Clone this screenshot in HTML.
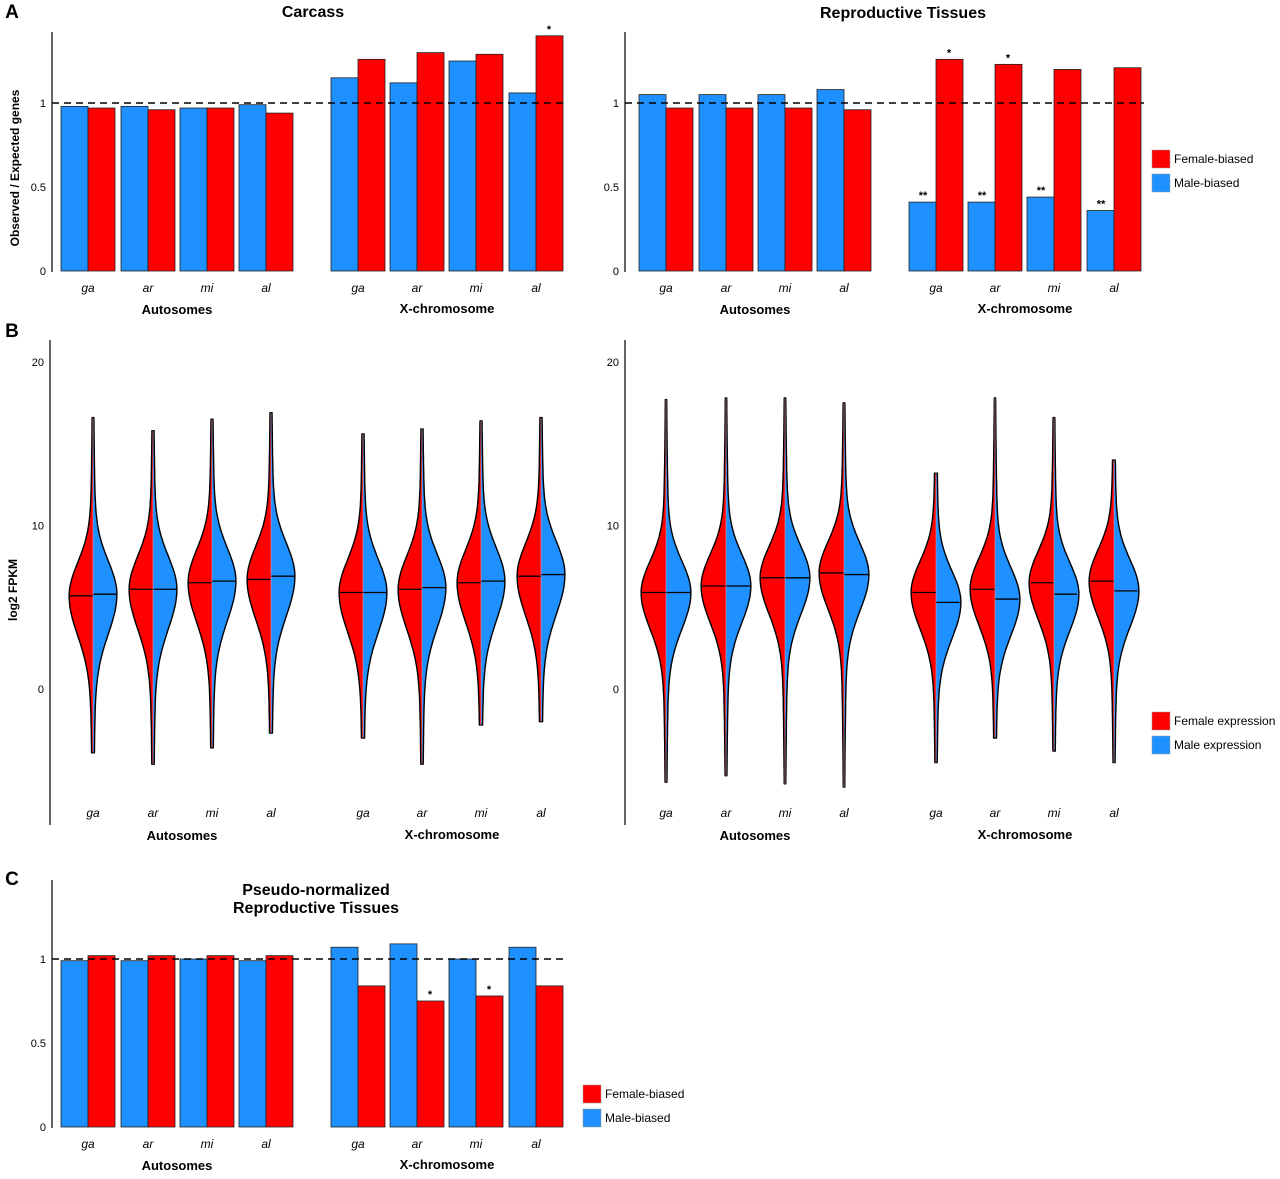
<!DOCTYPE html>
<html><head><meta charset="utf-8"><style>
body{margin:0;background:#fff}
svg text{font-family:"Liberation Sans",Arial,sans-serif}
</style></head><body>
<svg id="fig" width="1280" height="1174" viewBox="0 0 1280 1174" xmlns="http://www.w3.org/2000/svg"></svg>
<script>
// ---- data ----
const cats = ["ga","ar","mi","al"];
const carcassAutoMale = [0.98,0.98,0.97,0.99];
const carcassAutoFemale = [0.97,0.96,0.97,0.94];
const carcassXMale = [1.15,1.12,1.25,1.06];
const carcassXFemale = [1.26,1.30,1.29,1.40];
const reproAutoMale = [1.05,1.05,1.05,1.08];
const reproAutoFemale = [0.97,0.97,0.97,0.96];
const reproXMale = [0.41,0.41,0.44,0.36];
const reproXFemale = [1.26,1.23,1.20,1.21];
const pseudoAutoMale = [0.99,0.99,1.00,0.99];
const pseudoAutoFemale = [1.02,1.02,1.02,1.02];
const pseudoXMale = [1.07,1.09,1.00,1.07];
const pseudoXFemale = [0.84,0.75,0.78,0.84];
const barTicks = [0,0.5,1];
const barTickLabels = ["0","0.5","1"];
const violinTicks = [0,10,20];
// violins: female median, male median, min, max
const carcFemMed = [5.7,6.1,6.5,6.7,5.9,6.1,6.5,6.9];
const carcMaleMed = [5.8,6.1,6.6,6.9,5.9,6.2,6.6,7.0];
const carcMin = [-3.9,-4.6,-3.6,-2.7,-3.0,-4.6,-2.2,-2.0];
const carcMax = [16.6,15.8,16.5,16.9,15.6,15.9,16.4,16.6];
const repFemMed = [5.9,6.3,6.8,7.1,5.9,6.1,6.5,6.6];
const repMaleMed = [5.9,6.3,6.8,7.0,5.3,5.5,5.8,6.0];
const repMin = [-5.7,-5.3,-5.8,-6.0,-4.5,-3.0,-3.8,-4.5];
const repMax = [17.7,17.8,17.8,17.5,13.2,17.8,16.6,14.0];

const RED="#ff0000", BLUE="#1e90ff";
const svg=document.getElementById('fig');
const NS="http://www.w3.org/2000/svg";
function el(tag,attrs,parent){const e=document.createElementNS(NS,tag);for(const k in attrs)e.setAttribute(k,attrs[k]);(parent||svg).appendChild(e);return e;}
function txt(x,y,s,size,opts,parent){const t=el('text',Object.assign({x:x,y:y,'font-size':size,'text-anchor':'middle'},opts||{}),parent);t.textContent=s;return t;}

function groupCenters(x0){return [x0+26,x0+86,x0+145,x0+204, x0+296,x0+355,x0+414,x0+474];}

function barPanel(name,axisX,zeroY,topY,centers,am,af,xm,xf,stars){
  const g=el('g',{});
  
  
  const yS=v=>zeroY-v*168;
  const male=am.concat(xm), fem=af.concat(xf);
  for(let i=0;i<8;i++){
    const c=centers[i];
    const b=el('rect',{x:c-27,y:yS(male[i]),width:27,height:zeroY-yS(male[i]),fill:BLUE,stroke:'#222','stroke-width':0.8},g);
    
    
    const r=el('rect',{x:c,y:yS(fem[i]),width:27,height:zeroY-yS(fem[i]),fill:RED,stroke:'#222','stroke-width':0.8},g);
    
    
    txt(c,zeroY+21,cats[i%4],12,{'font-style':'italic'},g);
    if(stars&&stars.m[i]) txt(c-13,yS(male[i])-3,stars.m[i],11,{'font-weight':'bold'},g);
    if(stars&&stars.f[i]) txt(c+13,yS(fem[i])-3,stars.f[i],11,{'font-weight':'bold'},g);
  }
  el('line',{x1:axisX,y1:topY,x2:axisX,y2:zeroY+1,stroke:'#000','stroke-width':1.2},g);
  barTicks.forEach((t,i)=>txt(axisX-6,yS(t)+4,barTickLabels[i],11,{'text-anchor':'end'},g));
  el('line',{x1:axisX,y1:yS(1),x2:centers[7]+30,y2:yS(1),stroke:'#000','stroke-width':1.5,'stroke-dasharray':'7,5'},g);
  txt((centers[0]+centers[3])/2,zeroY+43,'Autosomes',13,{'font-weight':'bold'},g);
  txt((centers[4]+centers[7])/2,zeroY+42,'X-chromosome',13,{'font-weight':'bold'},g);
}

function violinPanel(name,axisX,centers,fm,mm,mn,mx,W,sdU,sdL){
  const g=el('g',{});
  
  
  const yS=v=>689-v*16.35;
  for(let i=0;i<8;i++){
    const c=centers[i];
    [[fm[i],-1,RED,'female'],[mm[i],1,BLUE,'male']].forEach(([med,dir,col,lab])=>{
      const pts=[];const N=80;
      for(let k=0;k<=N;k++){
        const v=mn[i]+(mx[i]-mn[i])*k/N;
        const sd=v>med?sdU:sdL;
        const z=(v-med)/sd;
        const w=W*Math.exp(-0.5*z*z)+2.5*Math.exp(-0.5*z*z/9)+0.4;
        pts.push([c+dir*w,yS(v)]);
      }
      let dOut='M'+c+','+yS(mn[i]);
      pts.forEach(p=>dOut+=' L'+p[0].toFixed(1)+','+p[1].toFixed(1));
      dOut+=' L'+c+','+yS(mx[i]);
      const p=el('path',{d:dOut+' Z',fill:col,stroke:'none'},g);
      
      
      el('path',{d:dOut,fill:'none',stroke:'#000','stroke-width':1.4,'stroke-linejoin':'round'},g);
      const wm=W*Math.exp(-0.5*Math.pow((fm[i]-mm[i])/sdU,2))+2.5;
      el('line',{x1:c,y1:yS(med),x2:c+dir*wm,y2:yS(med),stroke:'#000','stroke-width':1.3},g);
    });
    el('line',{x1:c,y1:yS(mn[i]),x2:c,y2:yS(mx[i]),stroke:'#d9a0b8','stroke-width':0.8,opacity:0.7},g);
    txt(c,817,cats[i%4],12,{'font-style':'italic'},g);
  }
  el('line',{x1:axisX,y1:340,x2:axisX,y2:825,stroke:'#000','stroke-width':1.2},g);
  violinTicks.forEach(t=>txt(axisX-6,yS(t)+4,String(t),11,{'text-anchor':'end'},g));
  txt((centers[0]+centers[3])/2,840,'Autosomes',13,{'font-weight':'bold'},g);
  txt((centers[4]+centers[7])/2,839,'X-chromosome',13,{'font-weight':'bold'},g);
}

function legend(x,y,l1,l2,name){
  const g=el('g',{});
  
  
  el('rect',{x:x,y:y,width:18,height:18,fill:RED,stroke:'#999','stroke-width':0.5},g);
  el('rect',{x:x,y:y+24,width:18,height:18,fill:BLUE,stroke:'#999','stroke-width':0.5},g);
  txt(x+22,y+13,l1,12,{'text-anchor':'start'},g);
  txt(x+22,y+37,l2,12,{'text-anchor':'start'},g);
}

txt(12,18,'A',19,{'font-weight':'bold'});
txt(12,337,'B',19,{'font-weight':'bold'});
txt(12,885,'C',19,{'font-weight':'bold'});

const cL=groupCenters(62), cR=groupCenters(640);
txt(313,17,'Carcass',16,{'font-weight':'bold'});
txt(903,18,'Reproductive Tissues',16,{'font-weight':'bold'});
txt(19,168,'Observed / Expected genes',12,{'font-weight':'bold',transform:'rotate(-90 19 168)'});
barPanel('carcass-bar-chart',52,271,32,cL,carcassAutoMale,carcassAutoFemale,carcassXMale,carcassXFemale,{m:[0,0,0,0,0,0,0,0],f:[0,0,0,0,0,0,0,'*']});
barPanel('repro-bar-chart',625,271,32,cR,reproAutoMale,reproAutoFemale,reproXMale,reproXFemale,{m:[0,0,0,0,'**','**','**','**'],f:[0,0,0,0,'*','*',0,0]});
legend(1152,150,'Female-biased','Male-biased','legend-a');

txt(17,590,'log2 FPKM',12,{'font-weight':'bold',transform:'rotate(-90 17 590)'});
violinPanel('carcass-violins',50,cL.map(c=>c+5),carcFemMed,carcMaleMed,carcMin,carcMax,21,2.0,2.4);
violinPanel('repro-violins',625,cR,repFemMed,repMaleMed,repMin,repMax,22,1.9,2.2);
legend(1152,712,'Female expression','Male expression','legend-b');

txt(316,895,'Pseudo-normalized',16,{'font-weight':'bold'});
txt(316,913,'Reproductive Tissues',16,{'font-weight':'bold'});
barPanel('pseudo-bar-chart',52,1127,880,cL,pseudoAutoMale,pseudoAutoFemale,pseudoXMale,pseudoXFemale,{m:[0,0,0,0,0,0,0,0],f:[0,0,0,0,0,'*','*',0]});
legend(583,1085,'Female-biased','Male-biased','legend-c');
</script>
</body></html>
